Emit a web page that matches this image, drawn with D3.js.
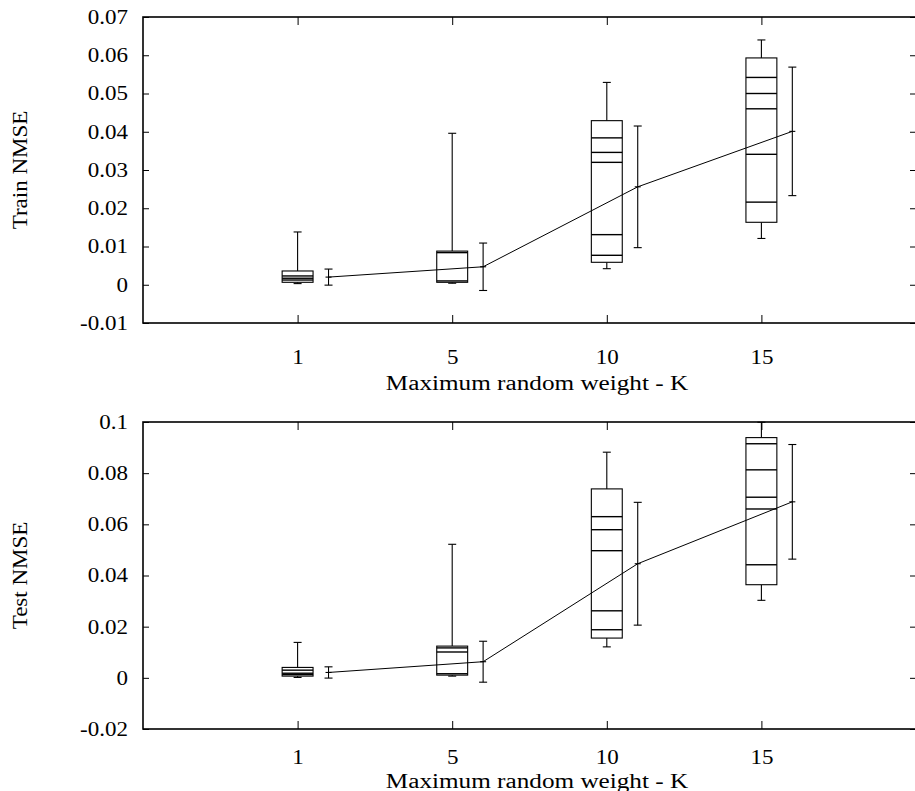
<!DOCTYPE html>
<html><head><meta charset="utf-8">
<script src="https://cdn.jsdelivr.net/npm/d3@7"></script>
<style>
body{margin:0;background:#fff}
svg{display:block}
text{font-family:"Liberation Serif","Times New Roman",Times,serif;fill:#000}
</style>
</head><body>
<svg id="chart" width="915" height="791"></svg>
<script>
// ---------- data ----------
const categories = ["1", "5", "10", "15"];
const positions = [1, 2, 3, 4];
const xLabel = "Maximum random weight - K";

const trainTicks = [-0.01, 0, 0.01, 0.02, 0.03, 0.04, 0.05, 0.06, 0.07];
const trainBoxLow = [0.00064, 0.00064, 0.00587, 0.01633];
const trainBoxHigh = [0.0036, 0.0088, 0.0429, 0.0593];
const trainWhiskerLow = [0.0003, 0.0004, 0.0042, 0.0121];
const trainWhiskerHigh = [0.0138, 0.0396, 0.0529, 0.0640];
const trainInner = [[0.0023, 0.0017, 0.00124], [0.0084, 0.0010], [0.0384, 0.0346, 0.0320, 0.0131, 0.0077], [0.0542, 0.0500, 0.0460, 0.0341, 0.0216]];
const trainMean = [0.0020, 0.0047, 0.0256, 0.0401];
const trainSd = [0.0021, 0.0062, 0.0159, 0.0168];

const testTicks = [-0.02, 0, 0.02, 0.04, 0.06, 0.08, 0.1];
const testBoxLow = [0.00067, 0.00106, 0.01554, 0.0364];
const testBoxHigh = [0.00407, 0.0124, 0.07385, 0.0939];
const testWhiskerLow = [0.00016, 0.00067, 0.0121, 0.0303];
const testWhiskerHigh = [0.01385, 0.0522, 0.0882, 0.0999];
const testInner = [[0.0030, 0.0018, 0.00125], [0.0117, 0.0101, 0.0016], [0.0630, 0.0579, 0.0497, 0.0262, 0.0188], [0.0915, 0.0813, 0.0706, 0.0660, 0.0442]];
const testMean = [0.0021, 0.0063, 0.0446, 0.0688];
const testSd = [0.0022, 0.0080, 0.0240, 0.0224];

// ---------- layout ----------
const svg = d3.select("#chart");
const LEFT = 143, RIGHT = 916;
const STRETCH = 1.15;
const fmt = d => String(+d.toFixed(2));

function stretch(sel, factor) {
  sel.each(function () {
    const w = this.getComputedTextLength();
    d3.select(this).attr("textLength", w * (factor || STRETCH)).attr("lengthAdjust", "spacingAndGlyphs");
  });
}

const panels = [
  { top: 17, bottom: 323, domain: [-0.01, 0.07], ticks: trainTicks, ylabel: "Train NMSE",
    boxLow: trainBoxLow, boxHigh: trainBoxHigh, wLow: trainWhiskerLow, wHigh: trainWhiskerHigh,
    inner: trainInner, mean: trainMean, sd: trainSd, tickBase: 364, labelBase: 390 },
  { top: 422, bottom: 729, domain: [-0.02, 0.1], ticks: testTicks, ylabel: "Test NMSE",
    boxLow: testBoxLow, boxHigh: testBoxHigh, wLow: testWhiskerLow, wHigh: testWhiskerHigh,
    inner: testInner, mean: testMean, sd: testSd, tickBase: 764, labelBase: 788 }
];

const x = d3.scaleLinear().domain([0, 5]).range([LEFT, RIGHT]);
const boxHalf = 0.1, ebOff = 0.2, cap = 4;

panels.forEach(p => {
  const y = d3.scaleLinear().domain(p.domain).range([p.bottom, p.top]);
  const g = svg.append("g");

  // axes (ticks inward, mirrored)
  const gl = g.append("g").attr("transform", `translate(${LEFT},0)`)
    .call(d3.axisLeft(y).tickValues(p.ticks).tickFormat(fmt).tickSize(-6).tickSizeOuter(0).tickPadding(15));
  const gr = g.append("g").attr("transform", `translate(${RIGHT},0)`)
    .call(d3.axisRight(y).tickValues(p.ticks).tickFormat("").tickSize(-6).tickSizeOuter(0));
  const gb = g.append("g").attr("transform", `translate(0,${p.bottom})`)
    .call(d3.axisBottom(x).tickValues(positions).tickFormat((d, i) => categories[i]).tickSize(-8).tickSizeOuter(0));
  const gt = g.append("g").attr("transform", `translate(0,${p.top})`)
    .call(d3.axisTop(x).tickValues(positions).tickFormat("").tickSize(-8).tickSizeOuter(0));
  [gl, gr, gb, gt].forEach(a => {
    a.attr("font-family", null);
    a.select(".domain").remove();
    a.selectAll(".tick line").attr("stroke", "#000").attr("stroke-width", 1);
  });
  gl.selectAll(".tick text").attr("font-size", 20).call(stretch);
  gb.selectAll(".tick text").attr("font-size", 20)
    .attr("y", p.tickBase - p.bottom).attr("dy", 0).call(stretch);

  // frame
  g.append("rect").attr("x", LEFT).attr("y", p.top).attr("width", RIGHT - LEFT).attr("height", p.bottom - p.top)
    .attr("fill", "none").attr("stroke", "#000").attr("stroke-width", 1.6);

  // y label
  g.append("text").attr("transform", `translate(20,${(p.top + p.bottom) / 2}) rotate(-90)`)
    .attr("text-anchor", "middle").attr("dy", "0.35em").attr("font-size", 20).text(p.ylabel).call(stretch);
  // x label
  g.append("text").attr("x", 537).attr("y", p.labelBase).attr("text-anchor", "middle")
    .attr("font-size", 20).text(xLabel).call(stretch, 1.26);

  const marks = g.append("g").attr("stroke", "#000").attr("fill", "none");
  positions.forEach((pos, i) => {
    const cx = x(pos);
    // whiskers
    marks.append("line").attr("x1", cx).attr("x2", cx).attr("y1", y(p.boxHigh[i])).attr("y2", y(p.wHigh[i])).attr("stroke-width", 1.1);
    marks.append("line").attr("x1", cx - cap).attr("x2", cx + cap).attr("y1", y(p.wHigh[i])).attr("y2", y(p.wHigh[i])).attr("stroke-width", 1.1);
    marks.append("line").attr("x1", cx).attr("x2", cx).attr("y1", y(p.boxLow[i])).attr("y2", y(p.wLow[i])).attr("stroke-width", 1.1);
    marks.append("line").attr("x1", cx - cap).attr("x2", cx + cap).attr("y1", y(p.wLow[i])).attr("y2", y(p.wLow[i])).attr("stroke-width", 1.1);
    // box
    marks.append("rect").attr("x", x(pos - boxHalf)).attr("width", x(pos + boxHalf) - x(pos - boxHalf))
      .attr("y", y(p.boxHigh[i])).attr("height", y(p.boxLow[i]) - y(p.boxHigh[i])).attr("stroke-width", 1.1).attr("fill", "#fff");
    // inner lines
    p.inner[i].forEach(v => {
      marks.append("line").attr("x1", x(pos - boxHalf)).attr("x2", x(pos + boxHalf))
        .attr("y1", y(v)).attr("y2", y(v)).attr("stroke-width", 1.4);
    });
    // error bar
    const ex = x(pos + ebOff);
    const hi = p.mean[i] + p.sd[i], lo = p.mean[i] - p.sd[i];
    marks.append("line").attr("x1", ex).attr("x2", ex).attr("y1", y(hi)).attr("y2", y(lo)).attr("stroke-width", 1.1);
    marks.append("line").attr("x1", ex - cap).attr("x2", ex + cap).attr("y1", y(hi)).attr("y2", y(hi)).attr("stroke-width", 1.1);
    marks.append("line").attr("x1", ex - cap).attr("x2", ex + cap).attr("y1", y(lo)).attr("y2", y(lo)).attr("stroke-width", 1.1);
    marks.append("line").attr("x1", ex - 3).attr("x2", ex + 3).attr("y1", y(p.mean[i])).attr("y2", y(p.mean[i])).attr("stroke-width", 1.1);
  });
  // mean line
  marks.append("path").attr("stroke-width", 1)
    .attr("d", d3.line().x((d, i) => x(positions[i] + ebOff)).y(d => y(d))(p.mean));
});
</script>
</body></html>
